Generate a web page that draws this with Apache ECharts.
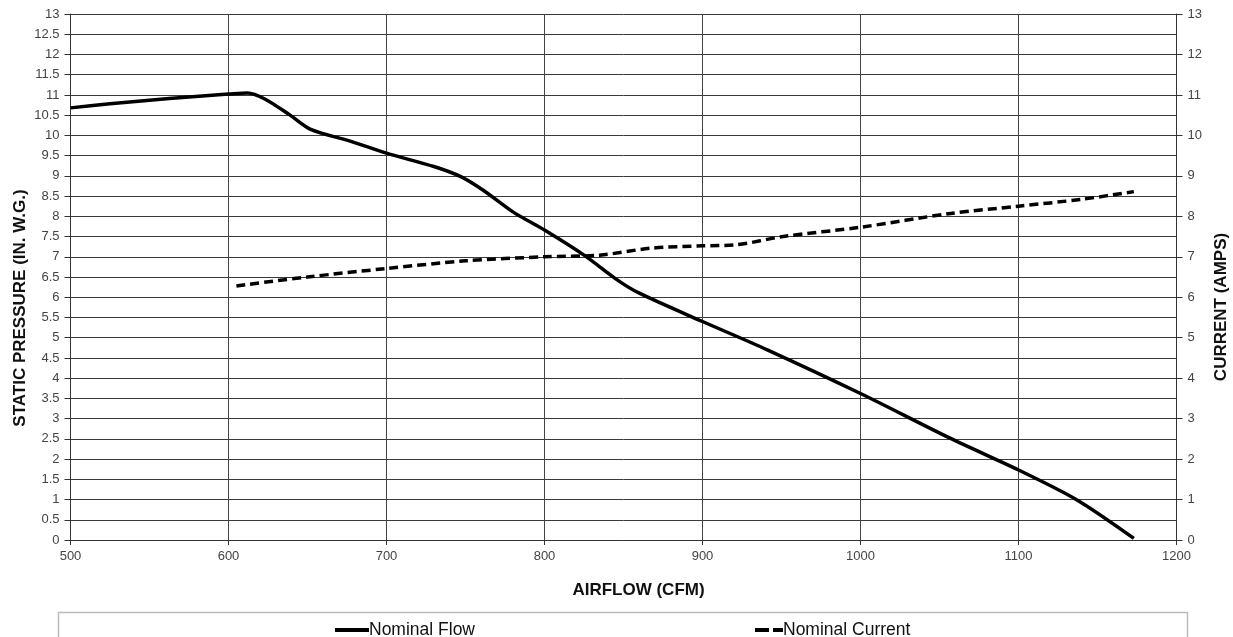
<!DOCTYPE html>
<html>
<head>
<meta charset="utf-8">
<script src="https://cdn.jsdelivr.net/npm/echarts@6/dist/echarts.min.js"></script>
<style>html,body{margin:0;padding:0;background:#fff}#c{width:1233px;height:637px}</style>
</head>
<body>
<div id="c"></div>
<script>
const xTitle = 'AIRFLOW (CFM)';
const yLeftTitle = 'STATIC PRESSURE (IN. W.G.)';
const yRightTitle = 'CURRENT (AMPS)';
const seriesNames = ['Nominal Flow', 'Nominal Current'];
const flowCfm = [500,525,550,575,600,612,623,639,652,677,700,730,747,761,780,800,825,846,860,900,941,1000,1057,1100,1137,1173];
const flowPressure = [10.68,10.78,10.87,10.95,11.02,11.05,10.9,10.5,10.15,9.86,9.56,9.23,8.98,8.65,8.11,7.66,7.04,6.43,6.10,5.40,4.70,3.62,2.51,1.73,0.99,0.04];
const currentCfm = [605,650,700,750,800,835,867,900,920,951,1000,1057,1100,1140,1173];
const currentAmps = [6.28,6.5,6.71,6.9,7.0,7.04,7.21,7.27,7.29,7.5,7.73,8.07,8.25,8.42,8.61];

const chart = echarts.init(document.getElementById('c'));
const font = 'Liberation Sans, Arial, sans-serif';
const labelStyle = {color:'#444', fontSize:13, fontFamily:font};
const nameBase = {color:'#111', fontSize:17, fontWeight:'bold', fontFamily:font};
const legendText = {color:'#111', fontSize:17.5, fontFamily:font, padding:[0,0,0,-5]};
chart.setOption({
  animation:false,
  backgroundColor:'#fff',
  grid:{left:70.5, right:56.5, top:14, bottom:97, show:false, containLabel:false, outerBoundsMode:'none'},
  graphic:[{type:'rect', shape:{x:58.5, y:612.5, width:1129, height:40}, style:{fill:'none', stroke:'#bbb', lineWidth:1.5}}],
  legend:[{
    data:[{name:seriesNames[0], icon:'path://M0,0H34V4H0Z'}], left:330, top:616, itemWidth:34, itemHeight:4,
    textStyle:legendText
  },{
    data:[{name:seriesNames[1], icon:'path://M0,0H14V4H0Z M18,0H28V4H18Z'}], left:750, top:616, itemWidth:28, itemHeight:4,
    textStyle:legendText
  }],
  xAxis:{
    type:'value', min:500, max:1200, interval:100,
    name:xTitle, nameLocation:'middle', nameGap:42, nameMoveOverlap:false,
    nameTextStyle:Object.assign({padding:[0,0,0,30]}, nameBase),
    axisLine:{lineStyle:{color:'#333'}},
    axisTick:{show:true, length:5, lineStyle:{color:'#333'}},
    axisLabel:Object.assign({margin:10, formatter:v=>String(v)}, labelStyle),
    splitLine:{show:true, lineStyle:{color:'#444', width:1}}
  },
  yAxis:[{
    type:'value', min:0, max:13, interval:0.5,
    name:yLeftTitle, nameLocation:'middle', nameGap:42, nameRotate:90, nameMoveOverlap:false,
    nameTextStyle:Object.assign({padding:[0,62,0,0]}, nameBase),
    axisLine:{show:true, lineStyle:{color:'#333'}},
    axisTick:{show:true, length:6, lineStyle:{color:'#333'}},
    axisLabel:Object.assign({margin:11}, labelStyle),
    splitLine:{show:true, lineStyle:{color:'#3a3a3a', width:1}}
  },{
    type:'value', min:0, max:13, interval:1, position:'right',
    name:yRightTitle, nameLocation:'middle', nameGap:36, nameRotate:90, nameMoveOverlap:false,
    nameTextStyle:Object.assign({padding:[0,60,0,0]}, nameBase),
    axisLine:{show:true, lineStyle:{color:'#333'}},
    axisTick:{show:true, length:6, lineStyle:{color:'#333'}},
    axisLabel:Object.assign({margin:11}, labelStyle),
    splitLine:{show:false}
  }],
  series:[{
    name:seriesNames[0], type:'line', yAxisIndex:0, symbol:'none', smooth:0.3,
    lineStyle:{color:'#000', width:3.5}, itemStyle:{color:'#000'},
    data:flowCfm.map((x,i)=>[x,flowPressure[i]])
  },{
    name:seriesNames[1], type:'line', yAxisIndex:1, symbol:'none', smooth:0.3,
    lineStyle:{color:'#000', width:3.5, type:[9,5]}, itemStyle:{color:'#000'},
    data:currentCfm.map((x,i)=>[x,currentAmps[i]])
  }]
});
</script>
</body>
</html>
